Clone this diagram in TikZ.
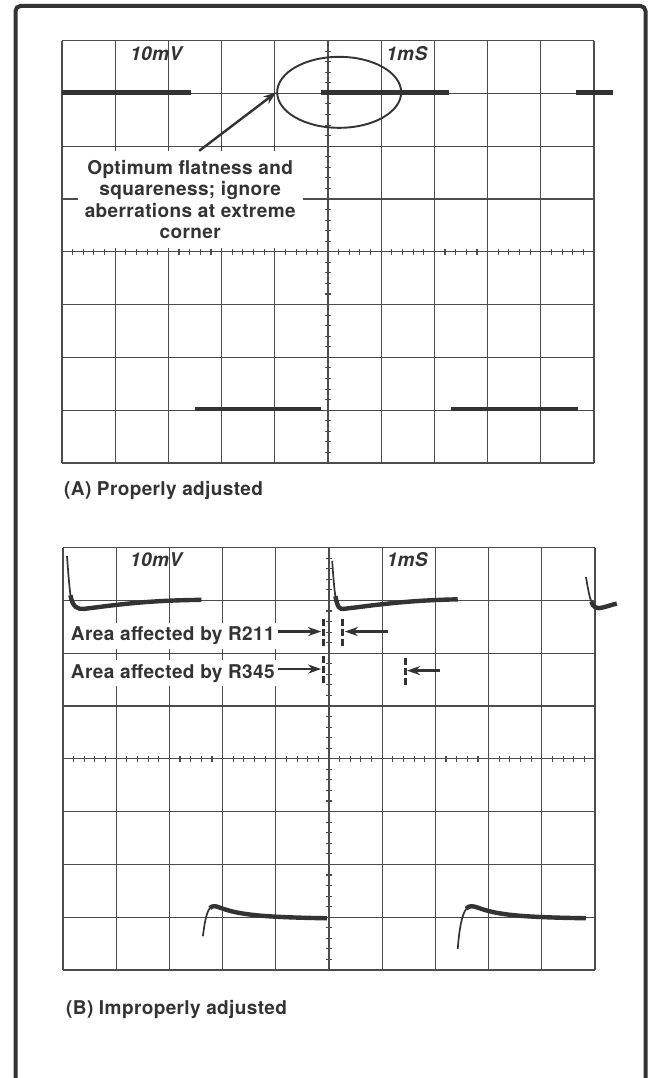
\documentclass[tikz,border=0pt]{standalone}
\usepackage{fontspec}
\newfontfamily\scopefont{TeX Gyre Heros}[LetterSpace=2.0]
\usetikzlibrary{arrows.meta, positioning, calc, shapes.geometric}

\definecolor{ink}{gray}{0.2}
\definecolor{gridgray}{gray}{0.3}

\begin{document}
\begin{tikzpicture}[
    x=1pt, y=1pt,
    font=\scopefont\bfseries\fontsize{19}{21.5}\selectfont,
    >= {Stealth[length=13pt, width=9pt]},
    gridline/.style={draw=gridgray, line width=1.1pt},
    trace/.style={draw=ink, line width=4.4pt},
    thintrace/.style={draw=ink, line width=1.7pt},
    pointer/.style={->, draw=ink, fill=ink, line width=2.4pt},
    marker/.style={draw=ink, line width=3pt, dash pattern=on 7pt off 3pt},
    scalelabel/.style={font=\scopefont\bfseries\itshape\fontsize{19}{19}\selectfont, text=ink, inner sep=0pt},
    note/.style={fill=white, text=ink, align=center, inner xsep=7pt, inner ysep=6pt},
    caption/.style={text=ink, inner sep=0pt, anchor=west},
    ]

    \useasboundingbox (0,0) rectangle (655,1078);

    % Macro for one 10 x 8 graticule with tick marks on the centre lines
    \newcommand{\graticule}{
        \foreach \i in {0,...,10} \draw[gridline] (\i,0) -- (\i,8);
        \foreach \j in {0,...,8} \draw[gridline] (0,\j) -- (10,\j);
        \foreach \k in {1,...,49} \draw[gridline] (\k/5,3.94) -- (\k/5,4.06);
        \foreach \k in {1,...,39} \draw[gridline] (4.94,\k/5) -- (5.06,\k/5);
    }

    % Outer frame (open at the bottom)
    \draw[draw=ink, line width=4pt, rounded corners=5pt] (15.5,-20) -- (15.5,1072) -- (645.5,1072) -- (645.5,-20);

    % ==========================================
    % (A) Properly adjusted
    % ==========================================
    \begin{scope}[shift={(62pt,615pt)}, x=53.2pt, y=52.8pt]
        \graticule

        % square wave
        \foreach \a/\b/\v in {0/2.43/7.02, 2.5/4.87/1.02, 4.87/7.27/7.02, 7.31/9.7/1.02, 9.66/10.36/7.02}
            \draw[trace] (\a,\v) -- (\b,\v);

        \node[ellipse, draw=ink, line width=1.9pt, minimum width=124pt, minimum height=71pt, inner sep=0pt] (window) at (5.21,7.02) {};

        \node[note, minimum width=220pt, minimum height=97pt] (advice) at (2.41,4.99)
            {Optimum flatness and\\ squareness; ignore\\ aberrations at extreme\\ corner};
        \draw[pointer] ([xshift=9pt]advice.north) -- (window.west);

        \node[scalelabel, anchor=west] (voltsA) at (1.28,7.75) {10mV};
        \node[scalelabel] (timeA) at (6.48,7.75) {1mS};
    \end{scope}

    \node[caption] (capA) at (64,587) {(A) Properly adjusted};

    % ==========================================
    % (B) Improperly adjusted
    % ==========================================
    \begin{scope}[shift={(63pt,108pt)}, x=53.2pt, y=52.8pt]
        \graticule

        % upper level: spike and undershoot
        \draw[thintrace] (0.075,7.84) .. controls (0.1,7.5) and (0.12,7.25) .. (0.14,7.1);
        \draw[trace] (0.14,7.1) .. controls (0.18,6.86) and (0.28,6.83) .. (0.4,6.84) .. controls (0.9,6.9) and (1.5,7.0) .. (2.6,7.01);
        \draw[thintrace] (5.06,7.75) .. controls (5.08,7.45) and (5.1,7.2) .. (5.12,7.08);
        \draw[trace] (5.12,7.08) .. controls (5.16,6.86) and (5.2,6.83) .. (5.28,6.84) .. controls (5.8,6.9) and (6.4,7.0) .. (7.42,7.02);
        \draw[thintrace] (9.83,7.44) .. controls (9.87,7.2) and (9.9,7.05) .. (9.93,6.98);
        \draw[trace] (9.93,6.98) .. controls (9.96,6.86) and (10.05,6.84) .. (10.12,6.86) .. controls (10.22,6.88) and (10.32,6.92) .. (10.41,6.94);

        % lower level: slow rise and overshoot
        \draw[thintrace] (2.63,0.64) .. controls (2.66,0.9) and (2.7,1.1) .. (2.76,1.17);
        \draw[trace] (2.76,1.17) .. controls (2.8,1.22) and (2.86,1.22) .. (2.95,1.18) .. controls (3.3,1.05) and (3.7,1.0) .. (4.96,0.98);
        \draw[thintrace] (7.42,0.4) .. controls (7.45,0.8) and (7.5,1.05) .. (7.58,1.16);
        \draw[trace] (7.58,1.16) .. controls (7.62,1.22) and (7.7,1.22) .. (7.8,1.18) .. controls (8.15,1.05) and (8.55,1.0) .. (9.83,0.98);

        \node[scalelabel, anchor=west] (voltsB) at (1.26,7.78) {10mV};
        \node[scalelabel] (timeB) at (6.47,7.78) {1mS};

        % affected areas
        \node[fill=white, text=ink, inner xsep=3pt, inner ysep=4pt, anchor=west] (r211) at (0.09,6.33) {Area affected by R211};
        \node[fill=white, text=ink, inner xsep=3pt, inner ysep=4pt, anchor=west] (r345) at (0.09,5.62) {Area affected by R345};

        \coordinate (edgeA) at (4.89,6.41);
        \coordinate (edgeB) at (5.26,6.41);
        \coordinate (edgeC) at (4.89,5.70);
        \coordinate (edgeD) at (6.43,5.67);
        \coordinate (tailB) at (6.11,6.41);
        \coordinate (tailD) at (7.09,5.67);

        \foreach \m in {edgeA, edgeB, edgeC, edgeD}
            \draw[marker] ([yshift=-14pt]\m) -- ([yshift=14pt]\m);

        \draw[pointer, shorten >=2pt] (r211.east |- edgeA) -- (edgeA);
        \draw[pointer, shorten >=2pt] (tailB) -- (edgeB);
        \draw[pointer, shorten >=2pt] (r345.east |- edgeC) -- (edgeC);
        \draw[pointer, shorten >=2pt] (tailD) -- (edgeD);
    \end{scope}

    \node[caption] (capB) at (66,68) {(B) Improperly adjusted};

\end{tikzpicture}
\end{document}
